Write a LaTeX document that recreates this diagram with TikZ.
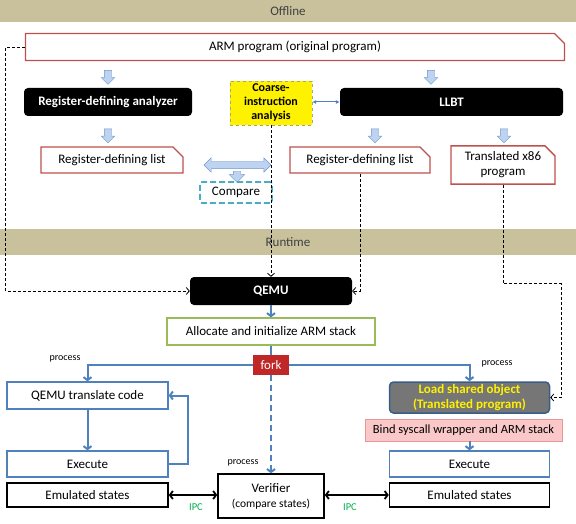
\documentclass[tikz,border=0pt]{standalone}
\usepackage{fontspec}
\setmainfont{Carlito}
\usetikzlibrary{shapes.misc,shapes.arrows,arrows.meta}
\definecolor{bandtan}{RGB}{201,193,156}
\definecolor{docred}{RGB}{192,80,77}
\definecolor{lineblue}{RGB}{79,129,189}
\definecolor{arrowfill}{RGB}{190,211,240}
\definecolor{arrowdraw}{RGB}{110,150,205}
\definecolor{stackgreen}{RGB}{155,187,89}
\definecolor{forkred}{RGB}{192,40,40}
\definecolor{loadgray}{RGB}{118,118,118}
\definecolor{loadblue}{RGB}{56,93,138}
\definecolor{bindpink}{RGB}{250,200,200}
\definecolor{bindedge}{RGB}{232,150,150}
\definecolor{cmpcyan}{RGB}{75,172,198}
\definecolor{coarseedge}{RGB}{170,170,90}
\definecolor{ipcgreen}{RGB}{0,176,80}
\tikzset{
	box/.style = {align=center, inner sep=1pt, text centered, font=\fontsize{13}{15}\selectfont},
	band/.style = {box, fill=bandtan, text=black!75, minimum width=576pt},
	doc/.style = {box, chamfered rectangle, chamfered rectangle corners=north east, chamfered rectangle xsep=5pt, chamfered rectangle ysep=5pt, draw=docred, line width=1.3pt, fill=white},
	blackbox/.style = {box, rounded corners=4pt, fill=black, text=white, font=\fontsize{13}{15}\selectfont\bfseries},
	coarse/.style = {box, fill=yellow, draw=coarseedge, dashed, font=\fontsize{12}{14}\selectfont\bfseries},
	cmpbox/.style = {box, draw=cmpcyan, dash pattern=on 6pt off 3pt, line width=1.6pt, rounded corners=2pt},
	bluebox/.style = {box, draw=lineblue, line width=1.3pt, fill=white},
	statebox/.style = {box, draw=black, line width=1.5pt, fill=white},
	dnarrow/.style = {single arrow, shape border rotate=270, draw=arrowdraw, fill=arrowfill, minimum height=14pt, single arrow head extend=3pt, inner sep=3.5pt},
	lrarrow/.style = {double arrow, draw=arrowdraw, fill=arrowfill, minimum height=67pt, double arrow head extend=3.5pt, inner sep=3.5pt},
	small/.style = {inner sep=1pt, font=\fontsize{10}{11}\selectfont}
}

\begin{document}
\begin{tikzpicture}[
	x=1pt, y=-1pt,
	dline/.style = {densely dashed, line width=0.8pt, -{Straight Barb[length=3pt,width=7pt]}},
	bline/.style = {lineblue, line width=2pt, -{Straight Barb[length=3pt,width=8pt]}},
	ipcline/.style = {black, line width=1.8pt, {Straight Barb[length=3pt,width=8pt]}-{Straight Barb[length=3pt,width=8pt]}}
]
\useasboundingbox (0,0) rectangle (576,524);
% bands
\node [band, minimum height=22pt] (offline) at (288,11) {Offline};
\node [band, minimum height=26pt] (runtime) at (288,242) {Runtime};
% offline part
\node [doc, minimum width=539pt, minimum height=27pt] (arm) at (295,47) {ARM program (original program)};
\node [dnarrow] (a1) at (108,75.5) {};
\node [dnarrow] (a2) at (431,75.5) {};
\node [blackbox, minimum width=168pt, minimum height=28pt] (rda) at (108,102) {Register-defining analyzer};
\node [coarse, minimum width=82pt, minimum height=44pt] (cia) at (271,103) {Coarse-\\instruction\\analysis};
\node [blackbox, minimum width=223pt, minimum height=28pt] (llbt) at (451.5,102) {LLBT};
\node [dnarrow] (a3) at (108,134) {};
\node [dnarrow] (a4) at (375,134) {};
\node [dnarrow] (a5) at (504,134) {};
\node [doc, minimum width=142pt, minimum height=26pt] (listL) at (112,160) {Register-defining list};
\node [doc, minimum width=140pt, minimum height=26pt] (listR) at (360,160) {Register-defining list};
\node [doc, minimum width=104pt, minimum height=36pt] (x86) at (503,165) {Translated x86\\program};
\node [lrarrow] (a6) at (237.5,165) {};
\node [dnarrow, minimum height=11pt, single arrow head extend=4pt] (a7) at (237,175) {};
\node [cmpbox, minimum width=72pt, minimum height=21pt] (cmp) at (236,192.5) {Compare};
\draw [lineblue, line width=1pt, {Latex[length=4pt,width=4pt]}-{Latex[length=4pt,width=4pt]}] (cia.east |- llbt) -- (llbt.west);
% runtime part
\node [blackbox, minimum width=162pt, minimum height=28pt] (qemu) at (271,291) {QEMU};
\node [box, draw=stackgreen, line width=1.3pt, minimum width=208pt, minimum height=27pt] (alloc) at (271,331.5) {Allocate and initialize ARM stack};
\node [box, fill=forkred, text=white, minimum width=36pt, minimum height=20pt] (fork) at (271,365) {fork};
\node [bluebox, minimum width=161pt, minimum height=27pt] (qtrans) at (87.5,395.5) {QEMU translate code};
\node [bluebox, minimum width=161pt, minimum height=26pt] (execL) at (87.5,464) {Execute};
\node [box, rounded corners=4pt, fill=loadgray, draw=loadblue, line width=1.5pt, text=yellow, font=\fontsize{13}{15}\selectfont\bfseries, minimum width=160pt, minimum height=31pt] (load) at (469.5,397.5) {Load shared object\\(Translated program)};
\node [box, fill=bindpink, draw=bindedge, minimum width=197pt, minimum height=22pt, font=\fontsize{12.5}{14}\selectfont] (bind) at (463.5,430) {Bind syscall wrapper and ARM stack};
\node [bluebox, minimum width=160pt, minimum height=26pt] (execR) at (469.5,464) {Execute};
\node [statebox, minimum width=161pt, minimum height=24pt] (emuL) at (87.5,495) {Emulated states};
\node [statebox, minimum width=106pt, minimum height=44pt] (ver) at (271,496) {Verifier\\{\fontsize{11.5}{15}\selectfont(compare states)}};
\node [statebox, minimum width=160pt, minimum height=24pt] (emuR) at (469.5,495) {Emulated states};
\node [small] (p1) at (65,359) {process};
\node [small] (p2) at (497,364) {process};
\node [small] (p3) at (243,463) {process};
\node [small, ipcgreen, font=\fontsize{10.5}{12}\selectfont] (ipc1) at (196,507) {IPC};
\node [small, ipcgreen, font=\fontsize{10.5}{12}\selectfont] (ipc2) at (350,507) {IPC};
% dashed inputs of QEMU
\draw [dline] (arm.west) -- ++(-19,0) |- (qemu.west);
\draw [dline] (cia.south) -- (qemu.north);
\draw [dline] (listR.south) |- (qemu.east);
\draw [dline] (x86.south) -- ++(0,99) -- ++(58,0) |- (load.east);
% flow
\draw [bline] (qemu) -- (alloc);
\draw [bline, -] (alloc) -- (fork);
\draw [bline] (fork.west) -| (qtrans.north);
\draw [bline] (fork.east) -| (load.north);
\draw [bline] (qtrans) -- (execL);
\draw [bline] (execL.east) -- ++(19,0) |- (qtrans.east);
\draw [bline] (execR.north |- bind.south) -- (execR.north);
\draw [bline, dash pattern=on 6pt off 4pt] (fork) -- (ver);
\draw [ipcline] (emuL.east) -- (emuL.east -| ver.west);
\draw [ipcline] (emuR.west -| ver.east) -- (emuR.west);
\end{tikzpicture}
\end{document}
